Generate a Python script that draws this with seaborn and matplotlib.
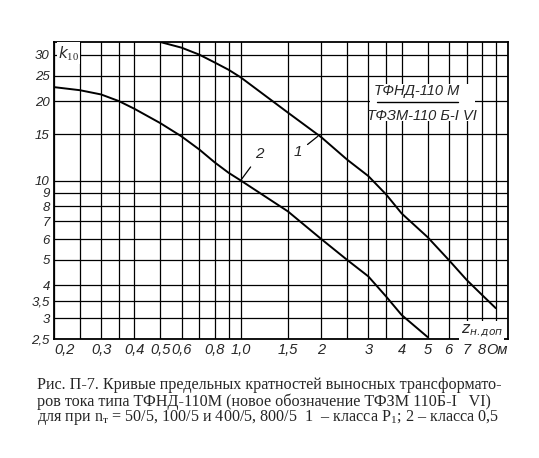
import pandas as pd
import matplotlib
matplotlib.use("Agg")
import matplotlib.pyplot as plt
from matplotlib.patches import Rectangle
from matplotlib.ticker import NullLocator
import seaborn as sns

# curve 1 (класс P)
z1 = [0.5, 0.6, 0.7, 0.8, 0.9, 1.0, 1.5, 2.0, 2.5, 3.0, 3.5, 4.0, 5.0, 6.0, 7.0, 8.0, 9.0]
k1 = [33.5, 31.9, 30.0, 28.0, 26.3, 24.6, 18.1, 14.6, 12.0, 10.4, 8.85, 7.5, 6.1, 5.0, 4.2, 3.68, 3.28]

# curve 2 (класс 0,5)
z2 = [0.2, 0.25, 0.3, 0.35, 0.4, 0.5, 0.6, 0.7, 0.8, 0.9, 1.0, 1.5, 2.0, 2.5, 3.0, 3.5, 4.0, 5.0]
k2 = [22.6, 22.0, 21.2, 20.0, 18.7, 16.5, 14.7, 13.1, 11.7, 10.7, 10.0, 7.64, 6.0, 5.0, 4.33, 3.63, 3.09, 2.55]

x_grid = [0.2, 0.25, 0.3, 0.35, 0.4, 0.5, 0.6, 0.7, 0.8, 0.9, 1.0,
          1.5, 2, 2.5, 3, 3.5, 4, 5, 6, 7, 8, 9, 10]
x_labels = ["0,2", "", "0,3", "", "0,4", "0,5", "0,6", "", "0,8", "", "1,0",
            "1,5", "2", "", "3", "", "4", "5", "6", "7", "8", "", "Ом"]
y_grid = [2.5, 3, 3.5, 4, 5, 6, 7, 8, 9, 10, 15, 20, 25, 30]
y_labels = ["2,5", "3", "3,5", "4", "5", "6", "7", "8", "9", "10", "15", "20", "25", "30"]

caption = [
    "Рис. П-7. Кривые предельных кратностей выносных трансформато-",
    "ров тока типа ТФНД-110М (новое обозначение ТФЗМ 110Б-I   VI)",
    "для при n$_\\mathrm{т}$ = 50/5, 100/5 и 400/5, 800/5  1  – класса P$_\\mathrm{1}$; 2 – класса 0,5",
]

df = pd.concat([
    pd.DataFrame({"z": z1, "k": k1, "curve": "1"}),
    pd.DataFrame({"z": z2, "k": k2, "curve": "2"}),
])

sns.set_style("white")
plt.rcParams["font.family"] = ["Liberation Sans Narrow", "Liberation Sans", "DejaVu Sans"]
plt.rcParams["mathtext.fontset"] = "custom"
plt.rcParams["mathtext.rm"] = "Liberation Serif"
plt.rcParams["mathtext.it"] = "Liberation Sans Narrow:italic"

fig = plt.figure(figsize=(5.39, 4.58), dpi=100)
ax = fig.add_axes([0.1002, 0.2592, 0.8423, 0.649])

sns.lineplot(data=df, x="z", y="k", hue="curve", palette=["black", "black"],
             legend=False, ax=ax, lw=1.4, zorder=3)

ax.set_xscale("log")
ax.set_yscale("log")
ax.set_xlim(0.2, 10)
ax.set_ylim(2.5, 33.5)
ax.set_xticks(x_grid, x_labels)
ax.set_yticks(y_grid, y_labels)
ax.xaxis.set_minor_locator(NullLocator())
ax.yaxis.set_minor_locator(NullLocator())
ax.set_xlabel("")
ax.set_ylabel("")

ax.set_axisbelow(True)
ax.grid(True, color="black", lw=0.9)
for s in ax.spines.values():
    s.set_color("black")
    s.set_linewidth(1.3)
ax.tick_params(axis="x", length=0, labelsize=10.5, pad=3)
ax.tick_params(axis="y", length=0, labelsize=9.5, pad=3)
for lab in ax.get_xticklabels() + ax.get_yticklabels():
    lab.set_fontstyle("italic")
ax.get_xticklabels()[0].set_ha("left")
ax.get_xticklabels()[-1].set_ha("right")

# white box behind the type label
ax.add_patch(Rectangle((3.04, 16.8), 7.52 - 3.04, 23.2 - 16.8,
                       facecolor="white", edgecolor="none", zorder=1))
ax.text(4.56, 21.8, "ТФНД-110 М", ha="center", va="center",
        fontsize=10.5, style="italic", zorder=4)
ax.plot([3.23, 6.5], [19.8, 19.8], color="black", lw=1.0, zorder=4)
ax.text(4.76, 17.5, "ТФЗМ-110 Б-I VI", ha="center", va="center",
        fontsize=10.5, style="italic", zorder=4)

ax.text(0.207, 30.4, "$\\mathit{k_{10}}$", ha="left", va="center", fontsize=11,
        bbox=dict(facecolor="white", edgecolor="none", pad=1), zorder=4)
ax.text(7.99, 2.69, "$\\mathit{z_{н.доп}}$", ha="center", va="center", fontsize=11,
        bbox=dict(facecolor="white", edgecolor="none", pad=1), zorder=4)

ax.annotate("1", xy=(1.94, 14.7), xytext=(1.635, 12.8), ha="center", va="center",
            fontsize=11, style="italic",
            arrowprops=dict(arrowstyle="-", color="black", lw=0.9, shrinkA=2, shrinkB=0))
ax.annotate("2", xy=(1.006, 10.1), xytext=(1.178, 12.55), ha="center", va="center",
            fontsize=11, style="italic",
            arrowprops=dict(arrowstyle="-", color="black", lw=0.9, shrinkA=2, shrinkB=0))

for i, line in enumerate(caption):
    fig.text(0.0686, 0.1594 - i * 0.036, line, ha="left", va="center",
             fontsize=11.6, family="Liberation Serif")

fig.savefig("out.png", dpi=100, facecolor="white")
